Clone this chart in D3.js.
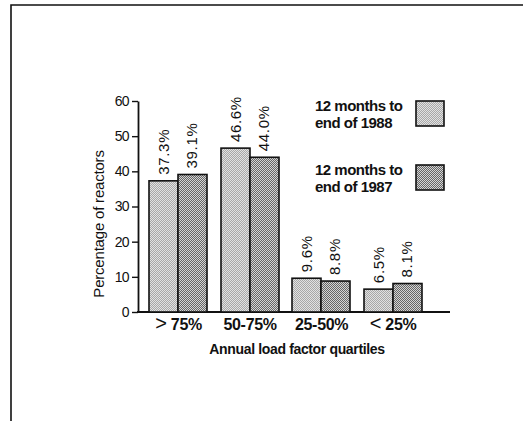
<!DOCTYPE html>
<html>
<head>
<meta charset="utf-8">
<script src="https://cdn.jsdelivr.net/npm/d3@7"></script>
<style>
  html, body { margin: 0; padding: 0; background: #fff; }
  svg { display: block; font-family: "Liberation Sans", Arial, Helvetica, sans-serif; }
</style>
</head>
<body>
<svg id="chart" width="523" height="421"></svg>
<script>
// Share of reactors in each annual load factor quartile
const categories = ["> 75%", "50-75%", "25-50%", "< 25%"];
const series = ["12 months to end of 1988", "12 months to end of 1987"];
const values1988 = [37.3, 46.6, 9.6, 6.5];
const values1987 = [39.1, 44.0, 8.8, 8.1];
const yTicks = [0, 10, 20, 30, 40, 50, 60];

const svg = d3.select("#chart");
const defs = svg.append("defs");

// Halftone-like fills built from small checker tiles
function checker(id, bg, fg, size) {
  const p = defs.append("pattern").attr("id", id)
    .attr("patternUnits", "userSpaceOnUse")
    .attr("width", size * 2).attr("height", size * 2);
  p.append("rect").attr("width", size * 2).attr("height", size * 2).attr("fill", bg);
  p.append("rect").attr("width", size).attr("height", size).attr("fill", fg);
  p.append("rect").attr("x", size).attr("y", size).attr("width", size).attr("height", size).attr("fill", fg);
}
checker("fillA", "#e2e2e2", "#a8a8a8", 1);
checker("fillB", "#d4d4d4", "#666666", 1);
const fills = ["url(#fillA)", "url(#fillB)"];

// Page frame (top and left rules)
svg.append("path").attr("d", "M11,421 V5 H523")
  .attr("fill", "none").attr("stroke", "#111").attr("stroke-width", 1.6);

const y = d3.scaleLinear().domain([0, 60]).range([312, 101]);
const x0 = d3.scaleBand().domain(categories).range([134.7, 435]).paddingInner(0.2).paddingOuter(0.2);
const x1 = d3.scaleBand().domain(series).range([0, x0.bandwidth()]);

// Y axis
const yAxis = d3.axisLeft(y).tickValues(yTicks).tickSize(6).tickSizeOuter(0).tickPadding(3);
const gy = svg.append("g").attr("transform", "translate(138,0)").call(yAxis);
gy.select(".domain").attr("stroke", "#111").attr("stroke-width", 1.8);
gy.selectAll(".tick line").attr("stroke", "#111").attr("stroke-width", 1.4);
gy.selectAll(".tick text").attr("font-size", 14).attr("letter-spacing", -0.6).attr("fill", "#111")
  .attr("font-family", "'Liberation Sans', Arial, sans-serif");

// Baseline
svg.append("line").attr("x1", 137).attr("x2", 450).attr("y1", y(0)).attr("y2", y(0))
  .attr("stroke", "#111").attr("stroke-width", 1.8);

// Bars and value labels
const rows = categories.map((c, i) => ({ c, vals: [values1988[i], values1987[i]] }));
const groups = svg.append("g").selectAll("g").data(rows).join("g")
  .attr("transform", d => `translate(${Math.round(x0(d.c))},0)`);

groups.selectAll("rect").data(d => d.vals.map((v, j) => ({ v, j })))
  .join("rect")
  .attr("x", d => Math.round(x1(series[d.j])))
  .attr("y", d => y(d.v))
  .attr("width", Math.round(x1.bandwidth()))
  .attr("height", d => y(0) - y(d.v))
  .attr("fill", d => fills[d.j])
  .attr("stroke", "#111").attr("stroke-width", 1.6);

groups.selectAll("text").data(d => d.vals.map((v, j) => ({ v, j })))
  .join("text")
  .attr("transform", d => `translate(${x1(series[d.j]) + x1.bandwidth() / 2 + 5.5},${y(d.v) - 6}) rotate(-90)`)
  .attr("font-size", 15).attr("letter-spacing", 0.7).attr("fill", "#111")
  .text(d => d.v.toFixed(1) + "%");

// Category labels
const catText = svg.append("g").selectAll("text").data(categories).join("text")
  .attr("x", d => x0(d) + x0.bandwidth() / 2 + 1)
  .attr("y", 330)
  .attr("text-anchor", "middle")
  .attr("font-size", 16).attr("font-weight", "bold").attr("fill", "#111")
  .attr("letter-spacing", -0.3);
catText.each(function(d) {
  const t = d3.select(this);
  if (d[0] === ">" || d[0] === "<") {
    t.append("tspan").attr("font-weight", "normal").attr("font-size", 20).text(d[0]);
    t.append("tspan").text(d.slice(1));
  } else {
    t.text(d);
  }
});

// Axis titles
svg.append("text").attr("x", 297).attr("y", 354).attr("text-anchor", "middle")
  .attr("font-size", 14).attr("font-weight", "bold").attr("letter-spacing", -0.35)
  .attr("fill", "#111").text("Annual load factor quartiles");

svg.append("text").attr("transform", "translate(104,224) rotate(-90)")
  .attr("text-anchor", "middle").attr("font-size", 15).attr("letter-spacing", -0.2).attr("fill", "#111")
  .text("Percentage of reactors");

// Legend
const legendY = [101, 165];
const legend = svg.append("g").selectAll("g").data(series).join("g")
  .attr("transform", (d, i) => `translate(0,${legendY[i]})`);
legend.append("rect").attr("x", 416).attr("y", 0).attr("width", 28).attr("height", 25)
  .attr("fill", (d, i) => fills[i]).attr("stroke", "#111").attr("stroke-width", 1.6);
legend.append("text").attr("x", 315).attr("y", 10)
  .attr("font-size", 15).attr("font-weight", "bold").attr("letter-spacing", -0.5).attr("fill", "#111")
  .text(d => d.slice(0, 12));
legend.append("text").attr("x", 315).attr("y", 27)
  .attr("font-size", 15).attr("font-weight", "bold").attr("letter-spacing", -0.5).attr("fill", "#111")
  .text(d => d.slice(13));
</script>
</body>
</html>
